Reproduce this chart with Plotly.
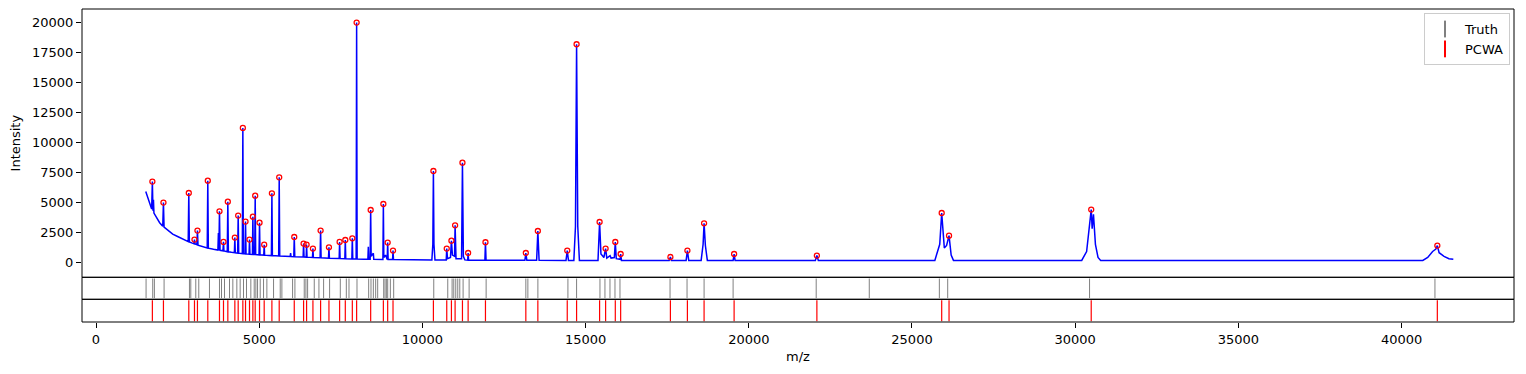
import plotly.graph_objects as go

# ---- spectrum vertices (m/z, intensity) ----
spec_mz = [1524, 1560, 1600, 1650, 1705, 1727, 1745, 1760, 1775, 1850, 1950, 2045, 2066, 2085,
           2200, 2350, 2500, 2650, 2825, 2843, 2860, 2950, 3000, 3017, 3035, 3090, 3108, 3125,
           3250, 3408, 3425, 3442, 3600, 3735, 3750, 3765, 3783, 3800, 3890, 3906, 3920, 4022,
           4039, 4055, 4150, 4240, 4254, 4268, 4340, 4356, 4372, 4483, 4499, 4515, 4565, 4581,
           4597, 4690, 4703, 4716, 4793, 4806, 4820, 4863, 4877, 4892, 4995, 5010, 5025, 5140,
           5153, 5166, 5300, 5374, 5389, 5404, 5597, 5613, 5629, 5800, 5950, 5962, 5975, 6060,
           6074, 6090, 6346, 6360, 6374, 6440, 6452, 6465, 6632, 6646, 6660, 6866, 6881, 6896,
           7123, 7137, 7151, 7450, 7464, 7478, 7624, 7638, 7652, 7839, 7853, 7867, 7970, 7985,
           8000, 8200, 8330, 8343, 8356, 8400, 8415, 8430, 8497, 8510, 8790, 8804, 8818, 8870,
           8922, 8936, 8950, 9086, 9100, 9114, 9500, 10000, 10290, 10320, 10337, 10354, 10385,
           10730, 10746, 10770, 10860, 10889, 10920, 10985, 11002, 11030, 11200, 11227, 11255,
           11300, 11388, 11401, 11414, 11915, 11932, 11950, 13140, 13169, 13200, 13500, 13537,
           13575, 14400, 14438, 14475, 14640, 14690, 14724, 14760, 14810, 15380, 15429, 15470,
           15530, 15560, 15613, 15650, 15750, 15780, 15880, 15910, 15940, 16060, 16074, 16100,
           17560, 17598, 17630, 18080, 18119, 18160, 18540, 18600, 18630, 18670, 18730, 19520,
           19550, 19580, 22040, 22086, 22130, 25700, 25850, 25910, 25990, 26060, 26135, 26200,
           26270, 30200, 30350, 30440, 30491, 30520, 30560, 30620, 30700, 30780, 40650, 40800,
           40950, 41050, 41095, 41150, 41300, 41450, 41585]
spec_int = [5900, 5600, 5200, 4800, 4450, 6725, 4300, 5200, 4100, 3700, 3300, 3000, 4975, 2930,
            2650, 2350, 2150, 1950, 1720, 5775, 1700, 1600, 1550, 1890, 1520, 1460, 2640, 1430,
            1300, 1190, 6800, 1170, 1080, 1020, 2440, 1010, 4250, 1000, 960, 1700, 950, 880,
            5050, 870, 830, 800, 2060, 795, 770, 3890, 760, 725, 11200, 720, 705, 3390,
            700, 675, 1890, 670, 655, 3800, 650, 645, 5550, 640, 620, 3300, 618, 600,
            1470, 598, 575, 560, 5750, 558, 530, 7080, 528, 505, 480, 770, 478, 470,
            2110, 468, 440, 1560, 438, 432, 1470, 430, 410, 1140, 408, 380, 2640, 378,
            340, 1250, 338, 312, 1700, 310, 300, 1860, 298, 282, 2000, 280, 272, 19975,
            270, 260, 255, 1300, 255, 255, 4360, 500, 750, 250, 240, 4860, 400, 600,
            240, 1640, 240, 230, 975, 228, 210, 195, 190, 1500, 7610, 1500, 190,
            185, 1140, 300, 400, 1800, 600, 500, 3080, 300, 300, 8300, 500,
            200, 180, 775, 180, 175, 1670, 175, 165, 775, 165, 165, 2610,
            165, 160, 975, 160, 160, 3000, 18170, 3000, 160, 160, 3360, 700,
            500, 400, 1140, 350, 550, 350, 400, 1690, 300, 250, 690, 160,
            155, 440, 155, 155, 975, 155, 160, 1500, 3250, 1400, 160, 155,
            690, 155, 155, 560, 155, 160, 1500, 4110, 1200, 1400, 2220, 600,
            160, 160, 900, 3000, 4390, 2800, 4000, 1500, 400, 160, 160, 400,
            900, 1100, 1390, 800, 500, 300, 250]

# ---- detected peaks (PCWA) with intensities ----
pcwa_mz = [1727, 2066, 2843, 3017, 3108, 3425, 3783, 3906, 4039, 4254, 4356, 4499, 4581, 4703,
           4806, 4877, 5010, 5153, 5389, 5613, 6074, 6360, 6452, 6646, 6881, 7137, 7464, 7638,
           7853, 7985, 8415, 8804, 8936, 9100, 10337, 10746, 10889, 11002, 11227, 11401, 11932,
           13169, 13537, 14438, 14724, 15429, 15613, 15910, 16074, 17598, 18119, 18630, 19550,
           22086, 25910, 26135, 30491, 41095]
pcwa_int = [6725, 4975, 5775, 1890, 2640, 6800, 4250, 1700, 5050, 2060, 3890, 11200, 3390, 1890,
            3800, 5550, 3300, 1470, 5750, 7080, 2110, 1560, 1470, 1140, 2640, 1250, 1700, 1860,
            2000, 19975, 4360, 4860, 1640, 975, 7610, 1140, 1800, 3080, 8300, 775, 1670,
            775, 2610, 975, 18170, 3360, 1140, 1690, 690, 440, 975, 3250, 690,
            560, 4110, 2220, 4390, 1390]

# ---- ground truth peak positions ----
truth_mz = [1534, 1738, 1789, 2086, 2863, 2904, 3057, 3149, 3476, 3783, 3845, 3937, 4090, 4192,
            4315, 4417, 4519, 4611, 4744, 4847, 4898, 4949, 5031, 5133, 5235, 5440, 5644, 5695,
            6023, 6094, 6380, 6431, 6483, 6687, 6830, 6973, 7157, 7485, 7669, 7751, 7996, 8354,
            8425, 8497, 8568, 8630, 8814, 8855, 8896, 8937, 9018, 9120, 10348, 10777, 10910,
            10961, 11022, 11083, 11145, 11247, 11431, 11953, 13169, 13231, 13538, 14458, 14724,
            15440, 15593, 15747, 15900, 16053, 17587, 18108, 18630, 19519, 22065, 23691, 25838,
            26094, 30440, 41022]

x_ticks = [0, 5000, 10000, 15000, 20000, 25000, 30000, 35000, 40000]
y_ticks = [0, 2500, 5000, 7500, 10000, 12500, 15000, 17500, 20000]

FONT = "DejaVu Sans"
fig = go.Figure()

fig.add_trace(go.Scatter(x=spec_mz, y=spec_int, mode="lines",
                         line=dict(color="blue", width=1.5), showlegend=False,
                         xaxis="x", yaxis="y"))
fig.add_trace(go.Scatter(x=pcwa_mz, y=pcwa_int, mode="markers",
                         marker=dict(symbol="circle-open", color="red", size=5,
                                     line=dict(color="red", width=1.3)),
                         showlegend=False, xaxis="x", yaxis="y"))
fig.add_trace(go.Scatter(x=truth_mz, y=[0] * len(truth_mz), mode="markers", name="Truth",
                         marker=dict(symbol="line-ns-open", color="gray", size=14,
                                     line=dict(color="gray", width=1)),
                         xaxis="x", yaxis="y2"))
fig.add_trace(go.Scatter(x=pcwa_mz, y=[0] * len(pcwa_mz), mode="markers", name="PCWA",
                         marker=dict(symbol="line-ns-open", color="red", size=15,
                                     line=dict(color="red", width=1.2)),
                         xaxis="x", yaxis="y3"))

d_main = [0.1428, 1.0]
d_truth = [0.0725, 0.1428]
d_pcwa = [0.0, 0.0725]

shapes = []
for d in (d_main, d_truth, d_pcwa):
    shapes.append(dict(type="rect", xref="paper", yref="paper", x0=0, x1=1, y0=d[0], y1=d[1],
                       line=dict(color="black", width=1), fillcolor="rgba(0,0,0,0)", layer="above"))

fig.update_layout(
    width=1526, height=374,
    margin=dict(l=82, r=12, t=9, b=52, autoexpand=False),
    paper_bgcolor="white", plot_bgcolor="white",
    font=dict(family=FONT, size=13, color="black"),
    xaxis=dict(domain=[0, 1], anchor="y3", range=[-429, 43444], tickvals=x_ticks,
               ticktext=[str(v) for v in x_ticks], ticks="outside", ticklen=5, tickwidth=1,
               tickcolor="black", showgrid=False, zeroline=False, showline=False, automargin=False,
               title=dict(text="m/z", standoff=6, font=dict(size=13))),
    yaxis=dict(domain=d_main, anchor="x", range=[-1250, 21108], tickvals=y_ticks,
               ticktext=[str(v) for v in y_ticks], ticks="outside", ticklen=5, tickwidth=1,
               tickcolor="black", showgrid=False, zeroline=False, showline=False, automargin=False,
               title=dict(text="Intensity", standoff=8, font=dict(size=13))),
    yaxis2=dict(domain=d_truth, anchor="x", range=[-1, 1], showticklabels=False, automargin=False,
                ticks="", showgrid=False, zeroline=False, showline=False),
    yaxis3=dict(domain=d_pcwa, anchor="x", range=[-1, 1], showticklabels=False, automargin=False,
                ticks="", showgrid=False, zeroline=False, showline=False),
    shapes=shapes,
    legend=dict(x=0.9972, y=0.987, xanchor="right", yanchor="top",
                bgcolor="rgba(255,255,255,0.8)", bordercolor="#cccccc", borderwidth=1,
                font=dict(size=13), tracegroupgap=0, itemsizing="constant"),
)

fig.write_html("out.html", config={"displayModeBar": False},
               post_script="document.body.style.margin='0';document.body.style.padding='0';")
